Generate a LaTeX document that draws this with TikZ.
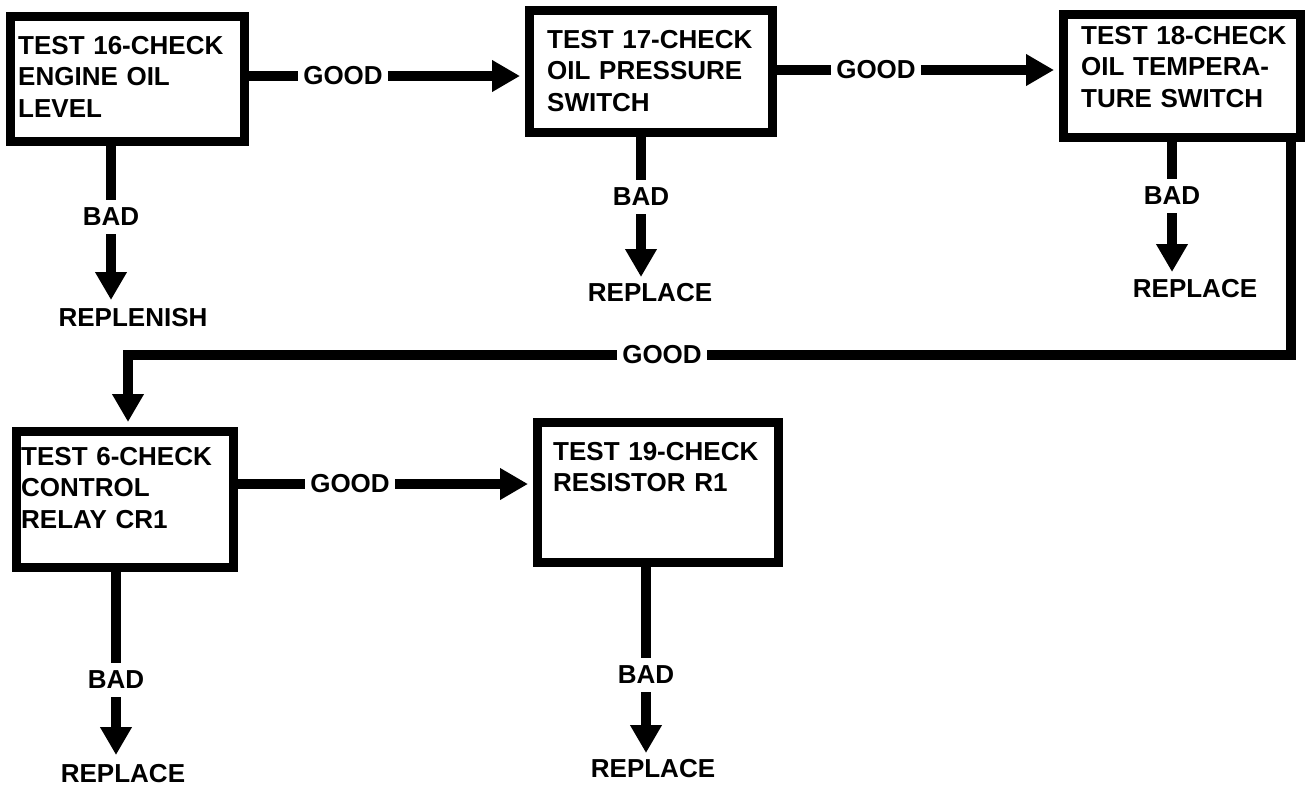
\documentclass[tikz,border=0pt]{standalone}
\usepackage{fontspec}
\setmainfont{Liberation Sans}
\usetikzlibrary{arrows.meta}
\begin{document}
\begin{tikzpicture}[x=1pt,y=-1pt,
  box/.style={draw, line width=9pt, inner sep=0pt},
  btxt/.style={anchor=base west, inner sep=0pt, align=left, text width=225pt,
    font=\fontsize{26}{31.5}\selectfont\bfseries},
  lbl/.style={inner xsep=5pt, inner ysep=8pt, font=\fontsize{26}{31.5}\selectfont\bfseries},
  res/.style={inner sep=0pt, font=\fontsize{26}{31.5}\selectfont\bfseries},
  conn/.style={line width=10pt, line join=miter},
  arrdown/.style={conn, -{Triangle[length=28pt,width=30pt]}},
  arr/.style={arrdown, shorten >=5pt}]
\useasboundingbox (0,0) rectangle (1308,787);

% boxes
\node[box, minimum width=234pt, minimum height=125pt] (b1) at (127.5,79) {};
\node[box, minimum width=243pt, minimum height=122pt] (b2) at (651,71.5) {};
\node[box, minimum width=237pt, minimum height=123pt] (b3) at (1182,76) {};
\node[box, minimum width=217pt, minimum height=136pt] (b4) at (125,499.5) {};
\node[box, minimum width=241pt, minimum height=140pt] (b5) at (658,492.5) {};

% box texts
\node[btxt] (t1) at (18,54) {TEST 16-CHECK\\ENGINE OIL\\LEVEL};
\node[btxt] (t2) at (547,48) {TEST 17-CHECK\\OIL PRESSURE\\SWITCH};
\node[btxt] (t3) at (1081,44) {TEST 18-CHECK\\OIL TEMPERA-\\TURE SWITCH};
\node[btxt] (t4) at (21,465) {TEST 6-CHECK\\CONTROL\\RELAY CR1};
\node[btxt] (t5) at (553,460) {TEST 19-CHECK\\RESISTOR R1};

% GOOD labels
\node[lbl] (g1) at (343,76) {GOOD};
\node[lbl] (g2) at (876,70) {GOOD};
\node[lbl] (g3) at (662,355) {GOOD};
\node[lbl] (g4) at (350,484) {GOOD};

% BAD labels
\node[lbl] (d1) at (111,217) {BAD};
\node[lbl] (d2) at (641,197) {BAD};
\node[lbl] (d3) at (1172,196) {BAD};
\node[lbl] (d4) at (116,680) {BAD};
\node[lbl] (d5) at (646,675) {BAD};

% results
\node[res] (r1) at (133,318) {REPLENISH};
\node[res] (r2) at (650,293) {REPLACE};
\node[res] (r3) at (1195,289) {REPLACE};
\node[res] (r4) at (123,774) {REPLACE};
\node[res] (r5) at (653,769) {REPLACE};

% arrow tip points
\coordinate (p1) at (111,300);
\coordinate (p2) at (641,277);
\coordinate (p3) at (1172,272);
\coordinate (p4) at (116,755);
\coordinate (p5) at (646,753);
\coordinate (lp) at (1291,355);
\coordinate (lc) at (128,355);

% GOOD connectors
\draw[conn] (b1.east |- g1) -- (g1);
\draw[arr] (g1) -- (b2.west |- g1);
\draw[conn] (b2.east |- g2) -- (g2);
\draw[arr] (g2) -- (b3.west |- g2);
\draw[conn] (b3.south -| lp) -- (lp) -- (g3);
\draw[arr] (g3) -- (lc) -- (b4.north -| lc);
\draw[conn] (b4.east |- g4) -- (g4);
\draw[arr] (g4) -- (b5.west |- g4);

% BAD connectors
\draw[conn] (b1.south -| d1) -- (d1);
\draw[arrdown] (d1) -- (p1);
\draw[conn] (b2.south -| d2) -- (d2);
\draw[arrdown] (d2) -- (p2);
\draw[conn] (b3.south -| d3) -- (d3);
\draw[arrdown] (d3) -- (p3);
\draw[conn] (b4.south -| d4) -- (d4);
\draw[arrdown] (d4) -- (p4);
\draw[conn] (b5.south -| d5) -- (d5);
\draw[arrdown] (d5) -- (p5);
\end{tikzpicture}
\end{document}
